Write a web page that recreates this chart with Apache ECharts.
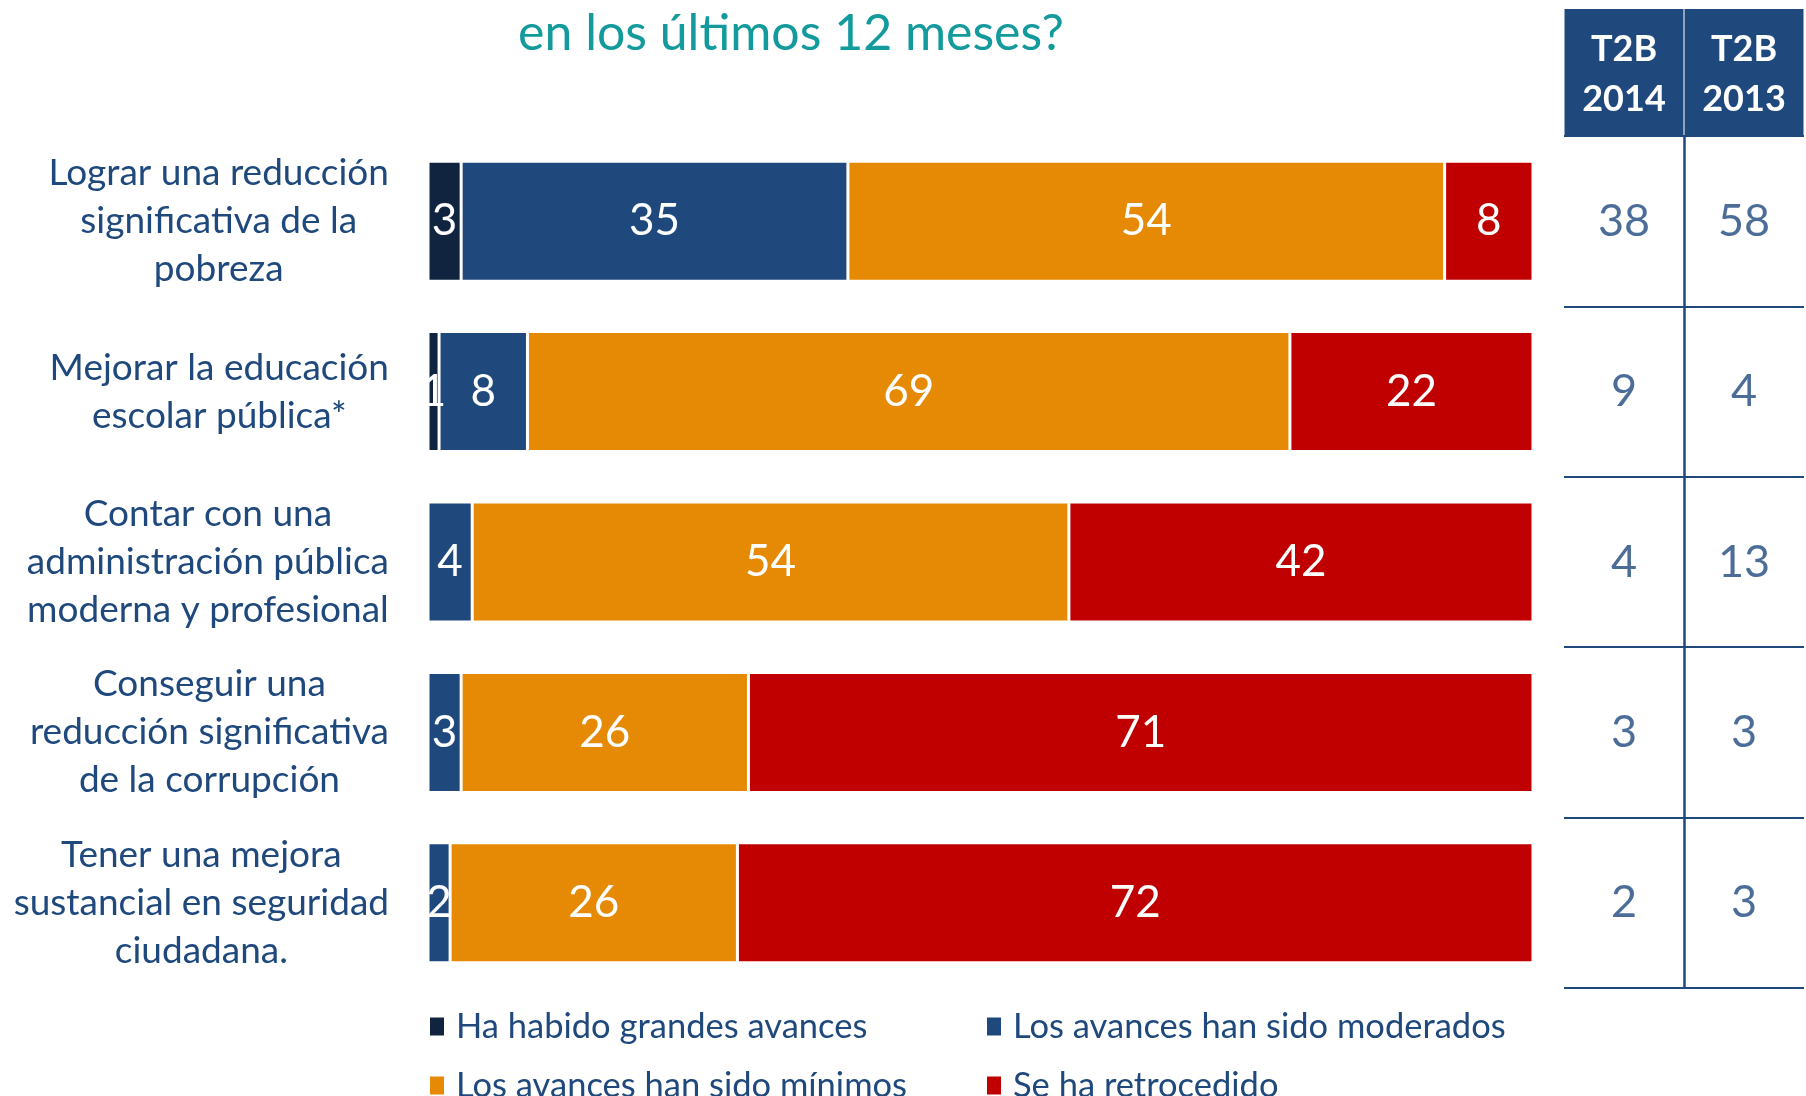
<!DOCTYPE html>
<html>
<head>
<meta charset="utf-8">
<script src="https://cdn.jsdelivr.net/npm/echarts@6/dist/echarts.min.js"></script>
<style>
  html, body { margin: 0; padding: 0; background: #fff; }
  #main { width: 1806px; height: 1096px; }
</style>
</head>
<body>
<div id="main"></div>
<script>
var categories = [
  "Lograr una reducción\nsignificativa de la\npobreza",
  "Mejorar la educación\nescolar pública*",
  "Contar con una\nadministración pública\nmoderna y profesional",
  "Conseguir una\nreducción significativa\nde la corrupción",
  "Tener una mejora\nsustancial en seguridad\nciudadana."
];
var seriesNames = [
  "Ha habido grandes avances",
  "Los avances han sido moderados",
  "Los avances han sido mínimos",
  "Se ha retrocedido"
];
var grandes = [3, 1, 0, 0, 0];
var moderados = [35, 8, 4, 3, 2];
var minimos = [54, 69, 54, 26, 26];
var retrocedido = [8, 22, 42, 71, 72];
var tableCols = ["T2B\n2014", "T2B\n2013"];
var t2b2014 = [38, 9, 4, 3, 2];
var t2b2013 = [58, 4, 13, 3, 3];

var navy = "#1F497D";
var font = "Lato";
var colors = ["#10243F", "#1F497D", "#E68A05", "#C00000"];

var myChart = echarts.init(document.getElementById("main"));

function barSeries(i, values) {
  return {
    name: seriesNames[i],
    type: "bar",
    stack: "total",
    xAxisIndex: 0,
    yAxisIndex: 0,
    barWidth: 120,
    itemStyle: { color: colors[i], borderColor: "#fff", borderWidth: 1.5 },
    label: {
      show: true,
      position: "inside",
      color: "#fff",
      fontFamily: font,
      fontSize: 44,
      formatter: function(p) {
        return p.value == 0 ? "" : p.value;
      }
    },
    data: values
  };
}

function legendAt(names, left) {
  return {
    data: names,
    orient: "vertical",
    left: left,
    top: 1009,
    width: 560,
    height: 140,
    padding: 0,
    itemGap: 24,
    itemWidth: 16,
    itemHeight: 20,
    icon: "rect",
    textStyle: { color: navy, fontFamily: font, fontSize: 34.5, padding: [0, 0, 0, 6] }
  };
}

// celdas de la tabla T2B
var tableData = [];
for (var r = 0; r < categories.length; r++) {
  tableData.push([0, r, t2b2014[r]]);
  tableData.push([1, r, t2b2013[r]]);
}

var option = {
  animation: false,
  title: {
    text: "en los últimos 12 meses?",
    left: 786,
    top: 4,
    textAlign: "center",
    textStyle: { color: "#139A9C", fontFamily: font, fontSize: 50, fontWeight: "normal" }
  },
  legend: [
    legendAt([seriesNames[0], seriesNames[2]], 428),
    legendAt([seriesNames[1], seriesNames[3]], 985)
  ],
  grid: [
    { left: 428, right: 273, top: 136, bottom: 108 },
    { left: 1564, right: 0, top: 136, bottom: 108 }
  ],
  xAxis: [
    { type: "value", gridIndex: 0, min: 0, max: 100, show: false },
    {
      type: "category",
      gridIndex: 1,
      position: "top",
      data: tableCols,
      axisLine: { show: false },
      axisTick: { show: false },
      splitLine: {
        show: true,
        showMinLine: false,
        showMaxLine: false,
        lineStyle: { color: navy, width: 2.5 }
      },
      axisLabel: {
        interval: 0,
        margin: 0,
        color: "#fff",
        fontFamily: font,
        fontWeight: "bold",
        fontSize: 36,
        lineHeight: 50,
        width: 119,
        align: "center",
        backgroundColor: navy,
        padding: [15, 0, 12, 0]
      }
    }
  ],
  yAxis: [
    {
      type: "category",
      gridIndex: 0,
      inverse: true,
      data: categories,
      axisLine: { show: false },
      axisTick: { show: false },
      axisLabel: {
        interval: 0,
        margin: 39,
        align: "right",
        formatter: function(v) {
          return v.split("\n").map(function(l) {
            return "{c|" + l + "}";
          }).join("\n");
        },
        rich: {
          c: { align: "center", color: navy, fontFamily: font, fontSize: 37, lineHeight: 48 }
        }
      }
    },
    {
      type: "category",
      gridIndex: 1,
      inverse: true,
      data: categories,
      axisLine: { show: false },
      axisTick: { show: false },
      axisLabel: { show: false },
      splitLine: { show: true, lineStyle: { color: navy, width: 2 } }
    }
  ],
  series: [
    barSeries(0, grandes),
    barSeries(1, moderados),
    barSeries(2, minimos),
    barSeries(3, retrocedido),
    {
      type: "scatter",
      xAxisIndex: 1,
      yAxisIndex: 1,
      symbolSize: 1,
      itemStyle: { color: "rgba(0,0,0,0)" },
      silent: true,
      label: {
        show: true,
        position: "inside",
        color: navy,
        fontFamily: font,
        fontSize: 45,
        formatter: function(p) {
          return p.value[2];
        }
      },
      data: tableData
    }
  ]
};
myChart.setOption(option);
</script>
</body>
</html>
